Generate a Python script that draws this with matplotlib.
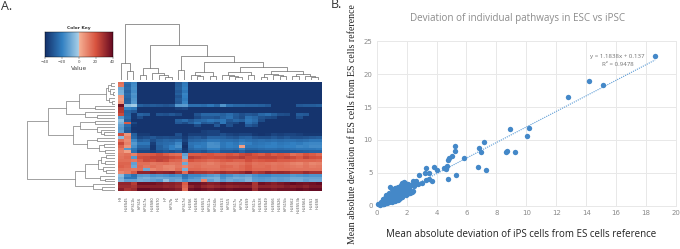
import numpy as np
import matplotlib
matplotlib.use("Agg")
import matplotlib.pyplot as plt
from matplotlib.colors import LinearSegmentedColormap

W, H = 680, 249

col_labels = ["H9", "HUES45", "hiPS11b", "hiPS16", "hiPS17a", "HUES80", "HUES70", "H7", "hiPS7b",
              "H1", "hiPS17d", "HUES6", "HUES48", "HUES53", "hiPS11a", "hiPS16b", "HUES13", "hiPS15",
              "hiPS17c", "hiPS7a", "HUES9", "hiPS11c", "HUES28", "HUES49", "HUES66", "HUES26",
              "hiPS15b", "HUES62", "HUES53b", "HUES64", "HUES1", "HUES8"]

D = -39
heat_rows = [
    [14, -24, -18] + [D]*6 + [-30, -22] + [D]*21,
    [12, -26, -17] + [D]*6 + [-29, -21] + [D]*21,
    [-10, -25, -16] + [D]*6 + [-28, -20] + [D]*21,
    [-8, -27, -17] + [D]*6 + [-30, -22] + [D]*21,
    [-7, -25, -15] + [D]*6 + [-28, -19] + [D]*21,
    [5, -26, -16] + [D]*6 + [-31, -20] + [D]*21,
    [4, -28, -15] + [D]*6 + [-29, -21] + [D]*21,
    [6, -27, -14] + [D]*6 + [-30, -19] + [D]*21,
    [38, -4, -1, -28, -30, -29, -30, -31, -30, -14, -13, -24, -24, -25, -22, -26, -15, -24, -26, -26, -27, -27, -28, -30, D, D, D, D, -30, -29, -29, -28],
    [28, -20, -22, D, D, D, D, D, D, -36, -35, D, D, D, D, D, D, D, D, D, D, D, D, D, D, D, D, D, D, D, D, D],
    [26, -27, -30, D, D, D, D, D, D, D, D, D, D, D, D, D, D, D, D, D, D, D, D, D, D, D, D, D, D, D, D, D],
    [22, -26, -38, -27, -29, D, -31, -32, -30, -33, D, D, -31, -26, -26, -26, -28, -25, -29, -32, -30, -31, -26, -24, -28, -32, -33, D, -29, -30, D, D],
    [-14, -25, -38, -33, D, D, D, D, D, D, D, D, -34, -30, -30, -31, -27, -24, -30, -33, -24, -26, -31, -33, -34, D, D, D, -32, D, D, D],
    [-5, -28, D, D, D, D, D, D, D, -28, -25, -30, -26, -25, -22, -24, -22, -30, -26, -28, -22, -25, -33, D, D, D, D, D, D, D, D, D],
    [-8, 18, -34, D, D, D, D, D, D, -30, -33, -28, -22, -30, -28, -33, -22, -33, -34, D, -24, -28, D, D, D, D, D, D, D, D, D, D],
    [-12, -25, -38, D, D, D, D, D, D, D, D, D, -33, D, D, -30, D, -32, D, D, -30, -33, D, D, D, D, D, D, D, D, D, D],
    [-14, -28, D, D, D, D, D, D, D, D, D, D, D, D, D, D, D, D, D, D, D, D, D, D, D, D, D, D, D, D, D, D],
    [-12, -30, -38, D, D, D, D, D, D, D, D, D, D, -36, -35, -35, D, D, D, D, D, D, D, D, D, D, D, D, D, D, D, D],
    [22, 6, -28, -37, -37, -39, -39, -39, -39, -32, -39, -36, -36, -36, -35, -35, -32, -35, -36, -35, -35, -38, -39, -38, -35, -36, -35, -35, -36, -38, -38, -38],
    [-5, 10, -26, -34, -32, -30, -33, -32, -33, -33, -37, -31, -30, -32, -27, -27, -28, -30, -31, -28, -27, -31, -32, -32, -30, -32, -30, -32, -32, -31, -30, -29],
    [14, 8, -18, -28, -26, -32, -28, -26, -27, -25, -35, -27, -26, -25, -22, -22, -24, -24, -25, -22, -24, -25, -24, -25, -24, -25, -24, -24, -25, -24, -22, -22],
    [22, 10, -14, -22, -22, -36, -26, -25, -24, -18, -38, -23, -22, -21, -16, -17, -22, -20, -22, -18, -20, -23, -22, -21, -20, -22, -21, -20, -21, -19, -18, -18],
    [16, 6, -16, -26, -26, -38, -28, -24, -20, -16, -40, -24, -20, -21, -16, -16, -22, -20, -21, 4, -22, -22, -21, -20, -20, -21, -20, -20, -18, -19, -17, -17],
    [12, -14, -22, -30, -30, -38, -28, -26, -20, -22, -38, -26, -24, -24, -20, -20, -25, -24, -25, -20, -26, -26, -25, -24, -24, -25, -24, -23, -22, -22, -22, -21],
    [10, 4, -24, -34, -34, -36, -32, -30, -32, -30, -36, -30, -29, -31, -27, -26, -30, -30, -31, -27, -31, -31, -30, -30, -30, -30, -30, -30, -29, -28, -27, -27],
    [12, 14, 10, 18, 18, 19, 22, 18, 15, 14, -12, 18, 18, 19, 20, 18, 18, 20, 18, 22, 24, 20, 18, 22, 18, 20, 19, 14, 16, 20, 18, 15],
    [13, 15, -14, 21, 22, 24, 24, 24, 22, 20, -9, 26, 24, 22, 21, 22, 22, 24, 24, 26, 22, 22, 24, 24, 24, 22, 24, 22, 19, 24, 21, 20],
    [14, 14, 12, 17, 22, 21, 24, 22, 17, 16, 9, 20, 18, 17, 15, 16, 18, 19, 17, 17, 21, 18, 19, 20, 20, 18, 18, 17, 16, 16, 16, 15],
    [16, 16, -12, 14, 14, 12, 13, 14, 12, 13, -10, 13, 13, 12, 10, 12, 14, 12, 12, 13, 16, 13, 14, 13, 12, 13, 12, 10, 9, 12, 9, 10],
    [17, 15, -10, 15, 12, 14, 12, 9, 9, 12, 9, 13, 14, 12, 12, 12, 16, 15, 13, 15, 18, 14, 14, 15, 13, 14, 13, 12, 11, 13, 11, 12],
    [14, 13, 12, 14, -10, 9, 12, 10, 9, 14, -8, 15, 15, 14, 13, 13, 15, 14, 14, 15, 18, 15, 15, 15, 13, 14, 14, 13, 13, 13, 13, 13],
    [9, 12, 18, 32, 32, 34, 32, 33, 34, 28, 14, 30, 28, 28, 26, 28, 30, 28, 29, 30, 34, 26, 28, 32, 30, 31, 30, 27, 27, 30, 28, 28],
    [-5, -18, -24, -14, -13, -16, -15, -16, -18, -16, -24, -18, -18, -16, -14, -12, -18, -16, -13, -14, -12, -16, -18, -18, -16, -16, -16, -14, -15, -16, -15, -15],
    [-8, -22, -22, -10, -8, -11, -10, -11, -12, -12, -22, -16, -14, -10, -9, -8, -16, -11, -9, -10, -8, -14, -15, -14, -12, -13, -12, -10, -10, -11, -11, -11],
    [-6, -12, -12, -9, -10, -12, -14, -4, -12, -10, -16, -12, -12, 9, -12, -8, -13, -10, -12, -11, -7, -13, -14, -13, -12, -13, -12, -9, -9, -12, -10, -10],
    [32, 32, 26, 38, 38, 38, 36, 34, 34, 32, 18, 38, 38, 36, 34, 35, 38, 36, 37, 37, 38, 28, 38, 36, 34, 36, 38, 40, 38, 37, 38, 40],
    [30, 30, 28, 34, 34, 34, 34, 32, 33, 30, 16, 33, 36, 32, 30, 32, 34, 32, 33, 34, 34, 28, 33, 33, 32, 33, 35, 34, 35, 33, 36, 36],
    [34, 28, 30, 40, 40, 38, 38, 37, 36, 34, 14, 38, 40, 38, 36, 38, 40, 38, 40, 40, 40, 30, 38, 38, 36, 38, 38, 38, 40, 38, 40, 40],
]

# trees: (distance, left, right), leaves are indexes
top_tree = (56,
            (17, 0, (9, 1, 2)),
            (35,
             (12, (5, 3, 4), (7, 5, (5, 6, (3, 7, 8)))),
             (24,
              (10, 9, 10),
              (18,
               (8, (5, 11, (4, 12, 13)), (4, 14, 15)),
               (13,
                (8, (5, 16, (4, 17, (3, 18, 19))), (5, 20, 21)),
                (9,
                 (6, (3, 22, 23), (5, 24, (4, 25, 26))),
                 (6, (4, 27, 28), (4, 29, (3, 30, 31))))))))
            )
left_tree = (88,
             (67,
              (49,
               (36, (9, (7, (4, 0, 1), (5, 2, (2, 3, 4))), (6, 5, (3, 6, 7))), (20, 8, 9)),
               (30, 10, (18, 11, 12))),
              (42,
               (35, (20, 13, 14), (18, 15, (14, 16, (11, 17, 18)))),
               (28, (18, 19, 20), (16, (11, 21, 22), (10, 23, 24))))),
             (40,
              (30,
               (17, (14, (9, 25, 26), (10, 27, 28)), (12, 29, (9, 30, 31))),
               (15, 32, (10, 33, 34))),
              (22, 35, (13, 36, 37))))

scatter_x = [18.6, 14.2, 15.1, 12.8, 10.2, 8.9, 10.05, 7.15, 5.25, 6.85, 5.2, 7.0, 8.7, 8.65, 9.25, 5.0, 4.85,
             4.75, 5.85, 6.75, 7.3, 3.3, 3.8, 4.0, 4.7, 4.5, 4.65, 3.25, 3.5, 2.8, 5.3, 4.75, 3.5, 3.7, 3.3,
             3.0, 2.6, 2.75, 2.4, 2.5, 2.2, 2.35, 2.1, 2.0, 1.9, 1.85, 1.7, 1.75, 1.6, 2.15, 2.45, 2.6, 0.9,
             1.15, 1.3, 1.45, 0.7, 0.6, 0.55, 0.45, 0.4, 0.3, 0.25, 0.2, 0.15, 0.1, 0.35, 0.5, 0.65, 0.75,
             0.8, 0.85, 0.95, 1.0, 1.05, 1.1, 1.2, 1.25, 1.35, 1.4, 1.5, 1.55, 1.65, 1.8, 1.95, 2.05, 0.3,
             0.45, 0.6, 0.7, 0.85, 0.95, 1.05, 1.15, 1.25, 1.35, 1.45, 1.55, 1.65, 1.75, 1.85, 0.4, 0.55,
             0.75, 0.9, 1.0, 1.1, 1.2, 1.3, 1.4, 1.5, 1.6, 1.7, 1.3, 1.5, 1.6, 0.55, 0.65, 0.8, 1.0, 1.1,
             1.2, 1.35, 1.9, 2.0, 2.25, 0.35, 0.25, 0.5, 1.8, 1.7, 1.55,
             0.5, 0.6, 0.75, 0.9, 1.1, 1.25, 1.4, 1.55, 1.7, 1.9, 2.1, 2.3, 0.45, 0.7, 0.95, 1.2, 1.45,
             1.7, 1.95, 2.2, 0.85, 1.05, 1.3, 1.55, 1.2, 1.4]
scatter_y = [22.8, 19.0, 18.3, 16.6, 11.8, 11.7, 10.6, 9.75, 9.1, 8.85, 8.35, 8.2, 8.25, 8.1, 8.15, 7.5, 7.25,
             7.0, 7.2, 5.85, 5.5, 5.75, 5.9, 5.45, 6.05, 5.7, 5.6, 4.95, 4.95, 4.6, 4.7, 4.0, 4.1, 3.8, 3.9,
             3.4, 3.8, 3.3, 3.7, 3.0, 2.2, 2.1, 2.5, 3.2, 3.0, 3.6, 3.5, 2.9, 3.1, 2.7, 2.2, 3.4, 2.8,
             2.2, 2.7, 2.9, 1.7, 1.6, 1.1, 0.8, 1.0, 0.6, 0.3, 0.3, 0.2, 0.25, 0.4, 0.5, 0.7, 0.9,
             1.5, 1.0, 1.2, 1.7, 1.4, 1.1, 1.6, 1.9, 1.4, 2.1, 2.4, 1.8, 2.3, 2.6, 2.6, 2.9, 0.2,
             0.3, 1.3, 1.2, 0.6, 0.7, 0.8, 1.0, 1.2, 1.1, 1.3, 1.5, 1.6, 2.0, 2.1, 0.7, 0.9,
             0.5, 1.5, 1.0, 1.9, 2.3, 1.7, 1.5, 1.9, 2.2, 1.9, 0.9, 1.0, 1.3, 0.4, 0.9, 1.1, 0.6, 0.75,
             0.7, 2.5, 2.3, 1.8, 2.0, 0.6, 0.15, 0.2, 1.9, 1.4, 2.8,
             0.95, 1.15, 1.45, 1.7, 2.1, 2.35, 2.6, 2.75, 2.9, 3.4, 3.3, 3.1, 0.3, 0.45, 0.75, 0.9, 1.1,
             1.3, 1.7, 2.1, 2.0, 2.5, 1.1, 1.15, 2.75, 0.85]
fit_x = [0.0, 18.6]
fit_slope = 1.1838
fit_icept = 0.137

navy_red = LinearSegmentedColormap.from_list("key", [
    (0.0, "#14316a"), (0.25, "#3280c2"), (0.4999, "#a9d0e8"), (0.5001, "#f6b195"),
    (0.75, "#d8533f"), (1.0, "#650a22")])


def ax_px(fig, x0, y0, x1, y1):
    # pixel box, y from the top of the picture
    return fig.add_axes([x0 / W, 1 - y1 / H, (x1 - x0) / W, (y1 - y0) / H])


def draw_tree(ax, node, flip):
    if isinstance(node, int):
        return node + 0.5, 0
    h, a, b = node
    pa, ha = draw_tree(ax, a, flip)
    pb, hb = draw_tree(ax, b, flip)
    xs, ys = [pa, pa, pb, pb], [ha, h, h, hb]
    if flip:
        ax.plot(ys, xs, color="#888888", lw=0.55)
    else:
        ax.plot(xs, ys, color="#777777", lw=0.55)
    return (pa + pb) / 2, h


fig = plt.figure(figsize=(W / 100, H / 100), dpi=100)

fig.text(1 / W, 1 - 7 / H, "A.", fontsize=9, family="Open Sans", color="#333333", va="center")
fig.text(331 / W, 1 - 5 / H, "B.", fontsize=9, family="Open Sans", color="#333333", va="center")

# colour key
key = ax_px(fig, 44.7, 32, 112.7, 57)
key.imshow(np.linspace(-40, 40, 200)[None, :], aspect="auto", cmap=navy_red, vmin=-40, vmax=40,
           extent=[-40, 40, 0, 1])
key.set_yticks([])
key.set_xticks([-40, -20, 0, 20, 40])
key.tick_params(length=1.5, width=0.3, labelsize=2.8, pad=1, colors="#444444")
for s in key.spines.values():
    s.set_linewidth(0.3)
key.set_title("Color Key", fontsize=3.2, fontweight="bold", pad=2.5, color="#333333")
key.set_xlabel("Value", fontsize=4.2, labelpad=1, color="#444444")

# heatmap
heat = ax_px(fig, 117.5, 82, 321, 191.5)
heat.imshow(np.array(heat_rows), aspect="auto", cmap=navy_red, vmin=-40, vmax=40, interpolation="nearest",
            extent=[0, 32, 38, 0])
heat.set_yticks([])
heat.set_xticks(np.arange(32) + 0.5)
heat.set_xticklabels(col_labels, rotation=90, fontsize=2.6, color="#555555")
heat.tick_params(length=0, pad=3.5)
for s in heat.spines.values():
    s.set_visible(False)

# dendrograms
top = ax_px(fig, 117.5, 23, 321, 80)
draw_tree(top, top_tree, False)
top.set_xlim(0, 32)
top.set_ylim(0, 57)
top.axis("off")

side = ax_px(fig, 26, 82, 115, 191.5)
draw_tree(side, left_tree, True)
side.set_xlim(89, 0)
side.set_ylim(38, 0)
side.axis("off")

# scatter
ax = ax_px(fig, 376.7, 41.3, 676, 205.7)
ax.set_xlim(0, 20)
ax.set_ylim(0, 25)
ax.set_xticks(range(0, 21, 2))
ax.set_yticks(range(0, 26, 5))
ax.grid(True, color="#e8e8e8", lw=0.7)
ax.set_axisbelow(True)
ax.tick_params(length=0, labelsize=5, colors="#8a8a8a", pad=3)
for s in ax.spines.values():
    s.set_color("#e8e8e8")
    s.set_linewidth(0.7)
ax.scatter(scatter_x, scatter_y, s=15, color="#4488c8", linewidths=0, zorder=3, clip_on=False)
ax.plot(fit_x, [fit_slope * v + fit_icept for v in fit_x], color="#5b9bd5", lw=0.8, ls=(0, (1, 1)), zorder=2)
ax.text(16.1, 22.75, "y = 1.1838x + 0.137", fontsize=4.4, color="#707070", ha="center", va="center",
        family="Open Sans")
ax.text(16.1, 21.4, "R² = 0.9478", fontsize=4.4, color="#707070", ha="center", va="center", family="Open Sans")

fig.text(518 / W, 1 - 18.5 / H, "Deviation of individual pathways in ESC vs iPSC", fontsize=7.1,
         family="Open Sans", color="#8c8c8c", ha="center", va="center")
fig.text(521 / W, 1 - 234 / H, "Mean absolute deviation of iPS cells from ES cells reference", fontsize=7.05,
         family="Open Sans", color="#222222", ha="center", va="center")
fig.text(352.5 / W, 1 - 124.5 / H, "Mean absolute deviation of ES cells from ES cells reference", fontsize=7.1,
         family="Liberation Serif", color="#222222", rotation=90, ha="center", va="center")

fig.savefig("out.png", dpi=100)
